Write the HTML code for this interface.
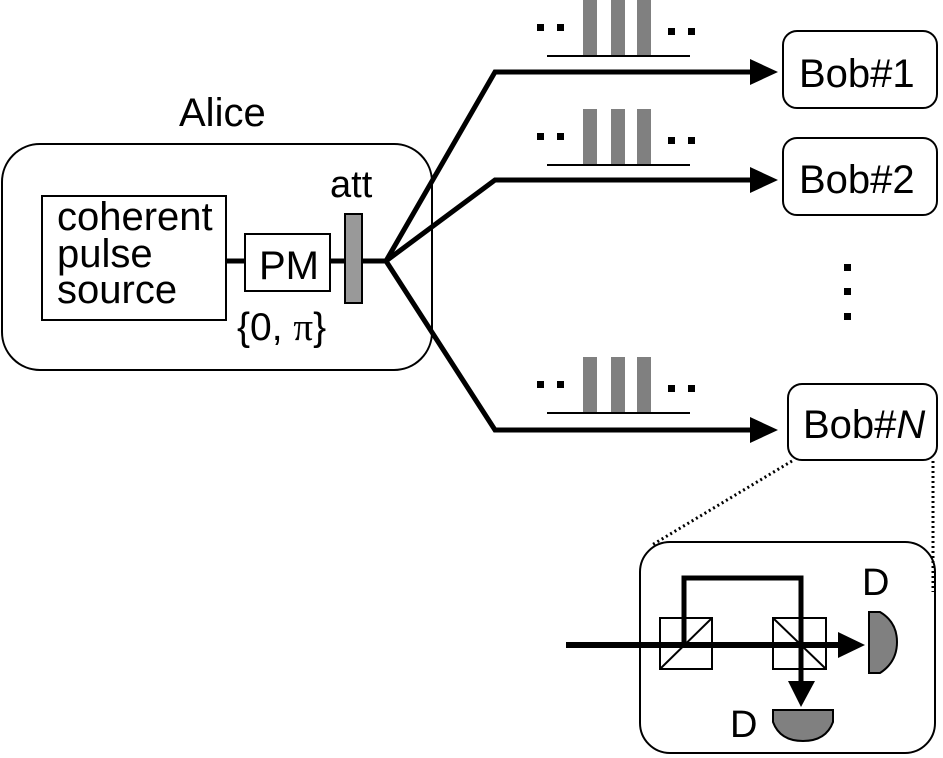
<!DOCTYPE html>
<html><head><style>body{margin:0;background:#fff}svg{display:block}text{font-family:"Liberation Sans",sans-serif;fill:#000}</style></head>
<body>
<svg width="943" height="758" viewBox="0 0 943 758" xmlns="http://www.w3.org/2000/svg">
<text x="179" y="126" font-size="40">Alice</text>
<rect x="2" y="144" width="430" height="226" rx="38" fill="none" stroke="#000" stroke-width="2"/>
<rect x="42" y="196" width="184" height="124" fill="none" stroke="#000" stroke-width="2"/>
<text x="57" y="230" font-size="40">coherent</text>
<text x="57" y="267" font-size="40">pulse</text>
<text x="57" y="303" font-size="40">source</text>
<line x1="226" y1="261" x2="245" y2="261" stroke="#000" stroke-width="5"/>
<rect x="245" y="234" width="85" height="57" fill="none" stroke="#000" stroke-width="2"/>
<text x="259" y="279" font-size="40">PM</text>
<text x="237" y="340" font-size="39">{0, <tspan font-family="Liberation Serif">π</tspan>}</text>
<line x1="330" y1="261" x2="345" y2="261" stroke="#000" stroke-width="5"/>
<rect x="345" y="214" width="17" height="89" fill="#999" stroke="#000" stroke-width="2"/>
<text x="330" y="197" font-size="38">att</text>
<line x1="362" y1="261" x2="386" y2="261" stroke="#000" stroke-width="5"/>
<g stroke="#000" stroke-width="5" fill="none">
<polyline points="386,261 495,72 752,72"/>
<polyline points="386,261 495,180 752,180"/>
<polyline points="386,261 495,430 752,430"/>
</g>
<g fill="#000">
<polygon points="750,59 778,72 750,85"/>
<polygon points="750,167 778,180 750,193"/>
<polygon points="750,417 778,430 750,443"/>
</g>
<g id="p1">
<rect x="537" y="24" width="7" height="7" fill="#000"/><rect x="557" y="24" width="7" height="7" fill="#000"/>
<rect x="583" y="0" width="14" height="56" fill="#808080"/><rect x="611" y="0" width="14" height="56" fill="#808080"/><rect x="637" y="0" width="14" height="56" fill="#808080"/>
<rect x="668" y="28" width="7" height="7" fill="#000"/><rect x="688" y="28" width="7" height="7" fill="#000"/>
<line x1="547" y1="56" x2="690" y2="56" stroke="#000" stroke-width="2"/>
</g>
<use href="#p1" transform="translate(0,109)"/>
<use href="#p1" transform="translate(0,357)"/>
<rect x="783" y="31" width="154" height="77" rx="14" fill="none" stroke="#000" stroke-width="2"/>
<text x="799" y="87" font-size="40">Bob#1</text>
<rect x="783" y="138" width="154" height="77" rx="14" fill="none" stroke="#000" stroke-width="2"/>
<text x="799" y="193" font-size="40">Bob#2</text>
<rect x="788" y="384" width="149" height="76" rx="14" fill="none" stroke="#000" stroke-width="2"/>
<text x="803" y="438" font-size="40">Bob#<tspan font-style="italic">N</tspan></text>
<g fill="#000"><rect x="844" y="264" width="7" height="7"/><rect x="844" y="288" width="7" height="7"/><rect x="844" y="313" width="7" height="7"/></g>
<g stroke="#000" stroke-width="3" stroke-dasharray="2,3"><line x1="792" y1="461" x2="652" y2="545"/><line x1="933" y1="461" x2="933" y2="592"/></g>
<rect x="640" y="542" width="295" height="211" rx="30" fill="none" stroke="#000" stroke-width="2"/>
<rect x="660" y="618" width="52" height="51" fill="none" stroke="#000" stroke-width="2"/>
<line x1="660" y1="669" x2="712" y2="618" stroke="#000" stroke-width="2"/>
<rect x="773" y="618" width="53" height="51" fill="none" stroke="#000" stroke-width="2"/>
<line x1="773" y1="618" x2="826" y2="669" stroke="#000" stroke-width="2"/>
<polyline points="684,645 684,578 801,578 801,690" fill="none" stroke="#000" stroke-width="5"/>
<line x1="566" y1="645" x2="840" y2="645" stroke="#000" stroke-width="6"/>
<polygon points="838,632 865,645 838,658" fill="#000"/>
<polygon points="788,681 815,681 801,707" fill="#000"/>
<path d="M869,612 H880 Q897,622 897,642 Q897,662 880,673 H869 Z" fill="#808080" stroke="#000" stroke-width="2"/>
<path d="M773,710 H833 V722 Q826,741 803,741 Q780,741 773,722 Z" fill="#808080" stroke="#000" stroke-width="2"/>
<text x="862" y="595" font-size="38">D</text>
<text x="730" y="737" font-size="38">D</text>
</svg>
</body></html>
